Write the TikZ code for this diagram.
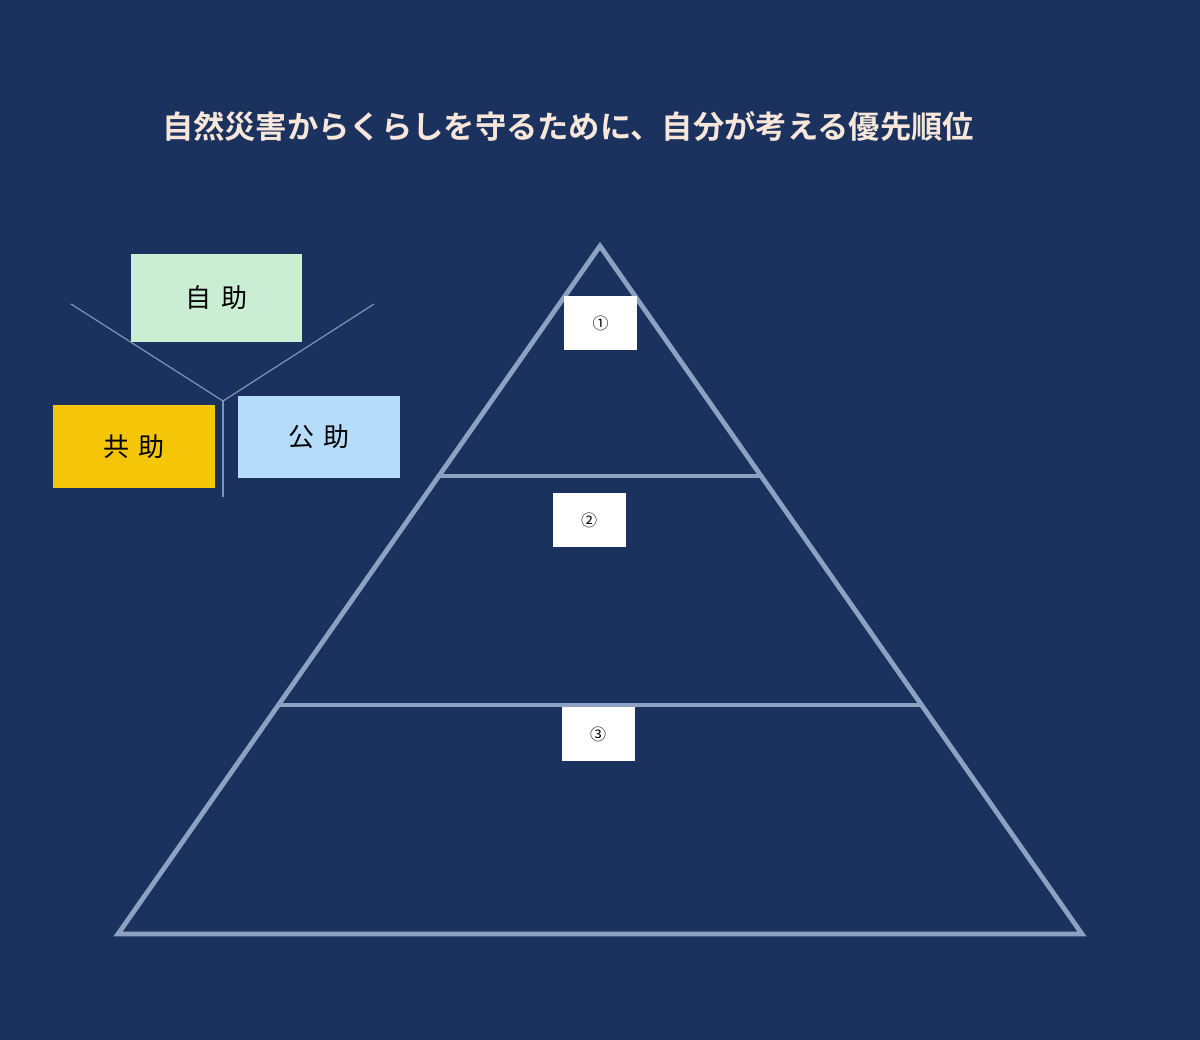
\documentclass[tikz,border=0pt]{standalone}
\usepackage{fontspec}
\newfontfamily\cjk{Noto Sans CJK JP}
\newfontfamily\cjkbold{Noto Sans CJK JP Bold}
\definecolor{bg}{HTML}{1B325E}
\definecolor{tri}{HTML}{8DA2C2}
\definecolor{titlec}{HTML}{F7E6DA}
\definecolor{jijo}{HTML}{C9EED3}
\definecolor{kyojo}{HTML}{F5C508}
\definecolor{kojo}{HTML}{B5DCFA}
\definecolor{thin}{HTML}{7F94B8}
\tikzset{
  trisides/.style={draw=tri, line width=4.8pt, line join=miter},
  level/.style={draw=tri, line width=4.8pt},
  helpbox/.style={inner sep=0pt, font=\cjk\fontsize{26}{30}\selectfont, text=black},
  numbox/.style={fill=white, inner sep=0pt, minimum width=73pt, minimum height=54pt, font=\cjk\fontsize{16}{18}\selectfont, text=black},
  thinline/.style={draw=thin, line width=1.2pt}
}
\begin{document}
\begin{tikzpicture}[x=1pt,y=-1pt]
\fill[bg] (0,0) rectangle (1200,1040);
\useasboundingbox (0,0) rectangle (1200,1040);
% title
\node[text=titlec, font=\cjkbold\fontsize{31.3}{36}\selectfont, inner sep=0pt] (title) at (568,126) {自然災害からくらしを守るために、自分が考える優先順位};
% pyramid
\coordinate (apex) at (600,246);
\coordinate (bl) at (118,934);
\coordinate (br) at (1082,934);
\draw[trisides] (apex) -- (bl) -- (br) -- cycle;
\coordinate (l1) at (439,476);
\coordinate (r1) at (761,476);
\coordinate (l2) at (278,705);
\coordinate (r2) at (922,705);
\draw[level] (l1) -- (r1);
\draw[level] (l2) -- (r2);
% number boxes
\node[numbox] (n1) at (600.5,323) {①};
\node[numbox] (n2) at (589,520) {②};
\node[numbox] (n3) at (598,734) {③};
% help lines
\coordinate (ll) at (71,304);
\coordinate (rr) at (374,304);
\coordinate (mid) at (223,401);
\coordinate (bot) at (223,497);
\draw[thinline] (ll) -- (mid) -- (rr);
\draw[thinline] (mid) -- (bot);
% help boxes
\node[helpbox, fill=jijo, minimum width=171pt, minimum height=88pt] (jijo) at (216.5,298) {自\hspace{0.35em}助};
\node[helpbox, fill=kyojo, minimum width=162pt, minimum height=83pt] (kyojo) at (134,446.5) {共\hspace{0.35em}助};
\node[helpbox, fill=kojo, minimum width=162pt, minimum height=82pt] (kojo) at (319,437) {公\hspace{0.35em}助};
\end{tikzpicture}
\end{document}
